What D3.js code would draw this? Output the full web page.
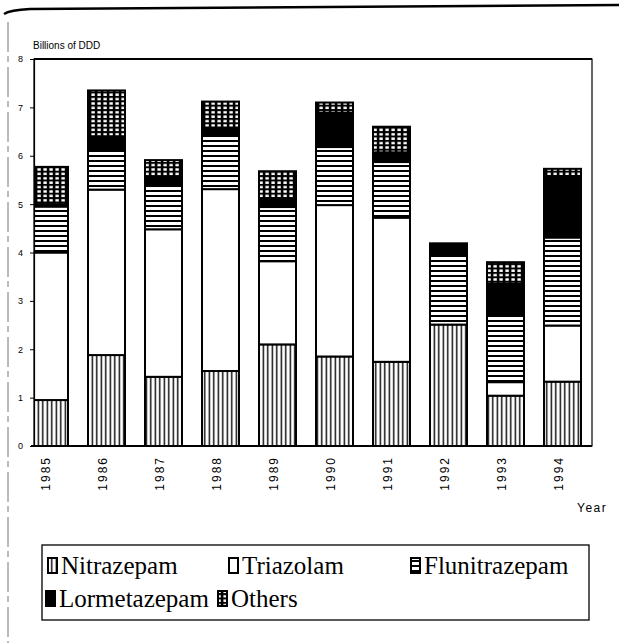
<!DOCTYPE html>
<html>
<head>
<meta charset="utf-8">
<script src="https://cdn.jsdelivr.net/npm/d3@7"></script>
<style>
  body { margin: 0; background: #fff; }
  svg { display: block; }
  .axis text { font-family: "Liberation Sans", Arial, sans-serif; fill: #000; }
</style>
</head>
<body>
<div id="chart"></div>
<script>
// values, billions of DDD
var years = ["1985", "1986", "1987", "1988", "1989", "1990", "1991", "1992", "1993", "1994"];
var nitrazepam    = [0.95, 1.88, 1.43, 1.55, 2.10, 1.85, 1.74, 2.51, 1.04, 1.33];
var triazolam     = [3.05, 3.42, 3.05, 3.76, 1.72, 3.13, 2.98, 0.00, 0.28, 1.16];
var flunitrazepam = [0.95, 0.80, 0.90, 1.10, 1.12, 1.20, 1.15, 1.45, 1.40, 1.82];
var lormetazepam  = [0.05, 0.30, 0.18, 0.17, 0.18, 0.71, 0.20, 0.23, 0.64, 1.27];
var others        = [0.77, 0.95, 0.35, 0.54, 0.56, 0.21, 0.53, 0.00, 0.44, 0.15];
var seriesNames = ["Nitrazepam", "Triazolam", "Flunitrazepam", "Lormetazepam", "Others"];
var yTicks = [0, 1, 2, 3, 4, 5, 6, 7, 8];

var W = 619, H = 643;
var plot = {left: 34, right: 592, top: 59, bottom: 446};

var rows = years.map(function(y, i) {
  return {year: y, Nitrazepam: nitrazepam[i], Triazolam: triazolam[i],
    Flunitrazepam: flunitrazepam[i], Lormetazepam: lormetazepam[i], Others: others[i]};
});

var svg = d3.select("#chart").append("svg")
  .attr("width", W)
  .attr("height", H);

var defs = svg.append("defs");

// fills: vertical hatch, plain, horizontal hatch, solid, grid
var p = defs.append("pattern").attr("id", "p-nitra")
  .attr("patternUnits", "userSpaceOnUse").attr("width", 4.5).attr("height", 10);
p.append("rect").attr("width", 4.5).attr("height", 10).attr("fill", "#fff");
p.append("rect").attr("x", 1.6).attr("width", 1.4).attr("height", 10).attr("fill", "#000");

p = defs.append("pattern").attr("id", "p-fluni")
  .attr("patternUnits", "userSpaceOnUse").attr("width", 10).attr("height", 5);
p.append("rect").attr("width", 10).attr("height", 5).attr("fill", "#fff");
p.append("rect").attr("y", 0).attr("width", 10).attr("height", 2).attr("fill", "#000");

p = defs.append("pattern").attr("id", "p-others")
  .attr("patternUnits", "userSpaceOnUse").attr("width", 6).attr("height", 4.4);
p.append("rect").attr("width", 6).attr("height", 4.4).attr("fill", "#000");
p.append("rect").attr("x", 1.4).attr("y", 1.1).attr("width", 3.4).attr("height", 2.4).attr("fill", "#fff");

var fills = {
  Nitrazepam: "url(#p-nitra)",
  Triazolam: "#fff",
  Flunitrazepam: "url(#p-fluni)",
  Lormetazepam: "#000",
  Others: "url(#p-others)"
};

defs.append("clipPath").attr("id", "clip")
  .append("rect")
  .attr("x", plot.left).attr("y", 0)
  .attr("width", plot.right - plot.left).attr("height", H);

// scales
var x = d3.scaleBand()
  .domain(years)
  .range([2.5, 609.5])
  .paddingInner(0.351)
  .paddingOuter(0.5);

var y = d3.scaleLinear()
  .domain([0, 8])
  .range([plot.bottom, plot.top]);

// page edge marks from the scan
svg.append("path")
  .attr("d", "M4,14 Q10,10 30,9 L619,5")
  .attr("fill", "none")
  .attr("stroke", "#000")
  .attr("stroke-width", 2.5);
svg.append("line")
  .attr("x1", 8).attr("y1", 22).attr("x2", 8).attr("y2", H)
  .attr("stroke", "#777")
  .attr("stroke-width", 1)
  .attr("stroke-dasharray", "30,4,6,5");

// plot frame
svg.append("rect")
  .attr("x", plot.left).attr("y", plot.top)
  .attr("width", plot.right - plot.left)
  .attr("height", plot.bottom - plot.top)
  .attr("fill", "none")
  .attr("stroke", "#000")
  .attr("stroke-width", 1.2);
svg.append("line")
  .attr("x1", plot.left).attr("x2", plot.right)
  .attr("y1", plot.top).attr("y2", plot.top)
  .attr("stroke", "#000").attr("stroke-width", 2);

// stacked bars
var stack = d3.stack().keys(seriesNames);
var layers = stack(rows);

var barG = svg.append("g").attr("clip-path", "url(#clip)");

layers.forEach(function(layer) {
  barG.append("g")
    .selectAll("rect")
    .data(layer.filter(function(d) { return d[1] - d[0] > 0; }))
    .enter().append("rect")
    .attr("x", function(d) { return x(d.data.year); })
    .attr("y", function(d) { return y(d[1]); })
    .attr("width", x.bandwidth())
    .attr("height", function(d) { return y(d[0]) - y(d[1]); })
    .attr("fill", fills[layer.key])
    .attr("stroke", "#000")
    .attr("stroke-width", 2);
});

// axes
var yAxis = d3.axisLeft(y)
  .tickValues(yTicks)
  .tickSize(4)
  .tickPadding(7)
  .tickFormat(d3.format("d"));

svg.append("g")
  .attr("class", "axis")
  .attr("transform", "translate(" + plot.left + ",0)")
  .call(yAxis)
  .call(function(g) {
    g.select(".domain").attr("stroke-width", 1.2);
    g.selectAll("text").attr("font-size", 9).attr("fill", "#222");
  });

var xAxis = d3.axisBottom(x).tickSize(0).tickPadding(0);

svg.append("g")
  .attr("class", "axis")
  .attr("transform", "translate(0," + plot.bottom + ")")
  .call(xAxis)
  .call(function(g) {
    g.select(".domain")
      .attr("d", "M" + (plot.left - 3) + ",0H" + plot.right)
      .attr("stroke-width", 2.2);
    g.selectAll("text")
      .attr("font-size", 12)
      .attr("letter-spacing", 2)
      .attr("text-anchor", "end")
      .attr("transform", "translate(-4,10) rotate(-90)")
      .attr("x", 0)
      .attr("dx", 0)
      .attr("y", 0)
      .attr("dy", "0.35em");
  });

svg.append("text")
  .attr("x", 33).attr("y", 49)
  .attr("font-family", "Liberation Sans, Arial, sans-serif")
  .attr("font-size", 10)
  .text("Billions of DDD");

svg.append("text")
  .attr("x", 577).attr("y", 512)
  .attr("font-family", "Liberation Sans, Arial, sans-serif")
  .attr("font-size", 12)
  .attr("letter-spacing", 1.5)
  .text("Year");

// legend
var legendItems = [
  {name: "Nitrazepam", ix: 48, tx: 61, ty: 574},
  {name: "Triazolam", ix: 229, tx: 242, ty: 574},
  {name: "Flunitrazepam", ix: 411, tx: 424, ty: 574},
  {name: "Lormetazepam", ix: 46, tx: 59, ty: 607},
  {name: "Others", ix: 218, tx: 231, ty: 607}
];

svg.append("rect")
  .attr("x", 42).attr("y", 545)
  .attr("width", 547).attr("height", 75)
  .attr("fill", "none")
  .attr("stroke", "#000")
  .attr("stroke-width", 1.3);

var leg = svg.append("g").selectAll("g")
  .data(legendItems)
  .enter().append("g");

leg.append("rect")
  .attr("x", function(d) { return d.ix; })
  .attr("y", function(d) { return d.ty - 16; })
  .attr("width", 9)
  .attr("height", 15)
  .attr("fill", function(d) { return fills[d.name]; })
  .attr("stroke", "#000")
  .attr("stroke-width", 2);

leg.append("text")
  .attr("x", function(d) { return d.tx; })
  .attr("y", function(d) { return d.ty; })
  .attr("font-family", "Liberation Serif, Times New Roman, serif")
  .attr("font-size", 25)
  .text(function(d) { return d.name; });
</script>
</body>
</html>
